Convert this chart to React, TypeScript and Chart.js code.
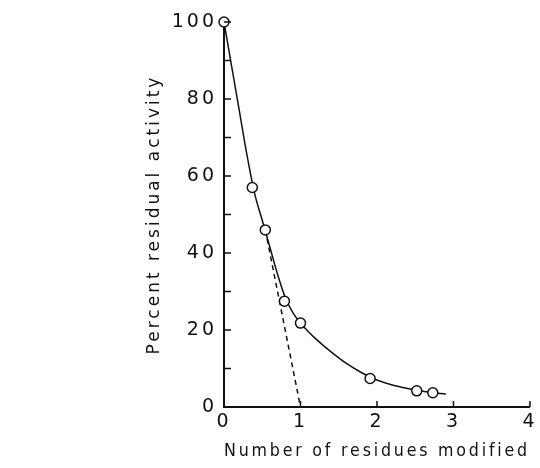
import React, { useEffect, useRef } from "react";
import { Chart, registerables } from "chart.js";

Chart.register(...registerables);

// Measured data points (number of residues modified, percent residual activity)
const pointX = [0, 0.37, 0.54, 0.79, 1.0, 1.91, 2.52, 2.73];
const pointY = [100, 57, 46, 27.5, 21.8, 7.4, 4.2, 3.7];

// Hand-drawn fitted curve
const curveX = [0, 0.1, 0.2, 0.3, 0.4, 0.5, 0.6, 0.7, 0.8, 0.9, 1.0, 1.1, 1.2, 1.4, 1.6, 1.8, 2.0, 2.2, 2.4, 2.6, 2.8, 2.9];
const curveY = [100, 88.5, 77, 65.5, 55.5, 48.5, 41.5, 34.5, 28.5, 24.5, 21.8, 19.6, 17.7, 14.3, 11.3, 8.9, 7.0, 5.7, 4.8, 4.1, 3.6, 3.4];

// Dashed extrapolation line to one residue
const dashX = [0.54, 1.0];
const dashY = [46, 0];

const xTicks = [0, 1, 2, 3, 4];
const yTicks = [0, 20, 40, 60, 80, 100];
const yMinorTicks = [10, 30, 50, 70, 90];

const xTitle = "Number of residues modified";
const yTitle = "Percent residual activity";

const toXY = (xs: number[], ys: number[]) => xs.map((x, i) => ({ x, y: ys[i] }));

const FONT = "'DejaVu Sans', sans-serif";
const INK = "#111";

export default function App() {
  const ref = useRef<HTMLCanvasElement | null>(null);

  useEffect(() => {
    if (!ref.current) return;

    const spacingPlugin = {
      id: "spacing",
      beforeDraw(chart: any) {
        (chart.ctx as any).letterSpacing = "3px";
      },
    };

    const innerTicks = {
      id: "innerTicks",
      afterDraw(chart: any) {
        const { ctx, scales } = chart;
        const xs = scales.x;
        const ys = scales.y;
        const x0 = xs.getPixelForValue(0);
        const y0 = ys.getPixelForValue(0);
        ctx.save();
        ctx.strokeStyle = INK;
        ctx.lineWidth = 1.5;
        ctx.beginPath();
        [...yTicks.slice(1), ...yMinorTicks].forEach((v) => {
          const py = ys.getPixelForValue(v);
          ctx.moveTo(x0, py);
          ctx.lineTo(x0 + 7, py);
        });
        xTicks.slice(1).forEach((v) => {
          const px = xs.getPixelForValue(v);
          ctx.moveTo(px, y0);
          ctx.lineTo(px, y0 - 6);
        });
        ctx.stroke();
        ctx.restore();
      },
    };

    const chart = new Chart(ref.current, {
      type: "scatter",
      data: {
        datasets: [
          {
            label: "points",
            data: toXY(pointX, pointY),
            showLine: false,
            pointRadius: 5,
            pointBorderWidth: 1.5,
            pointBackgroundColor: "#fff",
            pointBorderColor: INK,
            clip: false,
            order: 0,
          } as any,
          {
            label: "curve",
            data: toXY(curveX, curveY),
            showLine: true,
            borderColor: INK,
            borderWidth: 1.5,
            pointRadius: 0,
            cubicInterpolationMode: "monotone",
            clip: false,
            order: 1,
          } as any,
          {
            label: "dash",
            data: toXY(dashX, dashY),
            showLine: true,
            borderColor: INK,
            borderWidth: 1.5,
            borderDash: [5, 4],
            pointRadius: 0,
            clip: false,
            order: 2,
          } as any,
        ],
      },
      options: {
        responsive: false,
        animation: false,
        layout: { padding: { top: 22, right: 6, left: 0, bottom: 0 } },
        plugins: {
          legend: { display: false },
          tooltip: { enabled: false },
        },
        scales: {
          x: {
            type: "linear",
            min: 0,
            max: 4,
            afterFit(scale: any) {
              scale.height = 61;
            },
            afterBuildTicks(scale: any) {
              scale.ticks = xTicks.map((v) => ({ value: v }));
            },
            grid: { display: true, drawOnChartArea: false, drawTicks: false },
            border: { display: true, color: INK, width: 2 },
            ticks: {
              color: INK,
              font: { family: FONT, size: 19 },
              padding: 4,
              maxRotation: 0,
            },
            title: {
              display: true,
              text: xTitle,
              color: INK,
              font: { family: FONT, size: 17 },
              padding: { top: 0, bottom: 6 },
            },
          },
          y: {
            type: "linear",
            min: 0,
            max: 100,
            afterFit(scale: any) {
              scale.width = 224;
            },
            afterBuildTicks(scale: any) {
              scale.ticks = yTicks.map((v) => ({ value: v }));
            },
            grid: { display: true, drawOnChartArea: false, drawTicks: false },
            border: { display: true, color: INK, width: 2 },
            ticks: {
              color: INK,
              font: { family: FONT, size: 19 },
              padding: 7,
            },
            title: {
              display: true,
              text: yTitle,
              color: INK,
              font: { family: FONT, size: 17 },
              padding: { top: 144, bottom: 0 },
            },
          },
        },
      },
      plugins: [spacingPlugin, innerTicks],
    });

    return () => chart.destroy();
  }, []);

  return (
    <div style={{ position: "fixed", left: 0, top: 0, width: 540, height: 468, background: "#fff" }}>
      <canvas ref={ref} width={540} height={468} style={{ width: 540, height: 468, display: "block" }} />
    </div>
  );
}
